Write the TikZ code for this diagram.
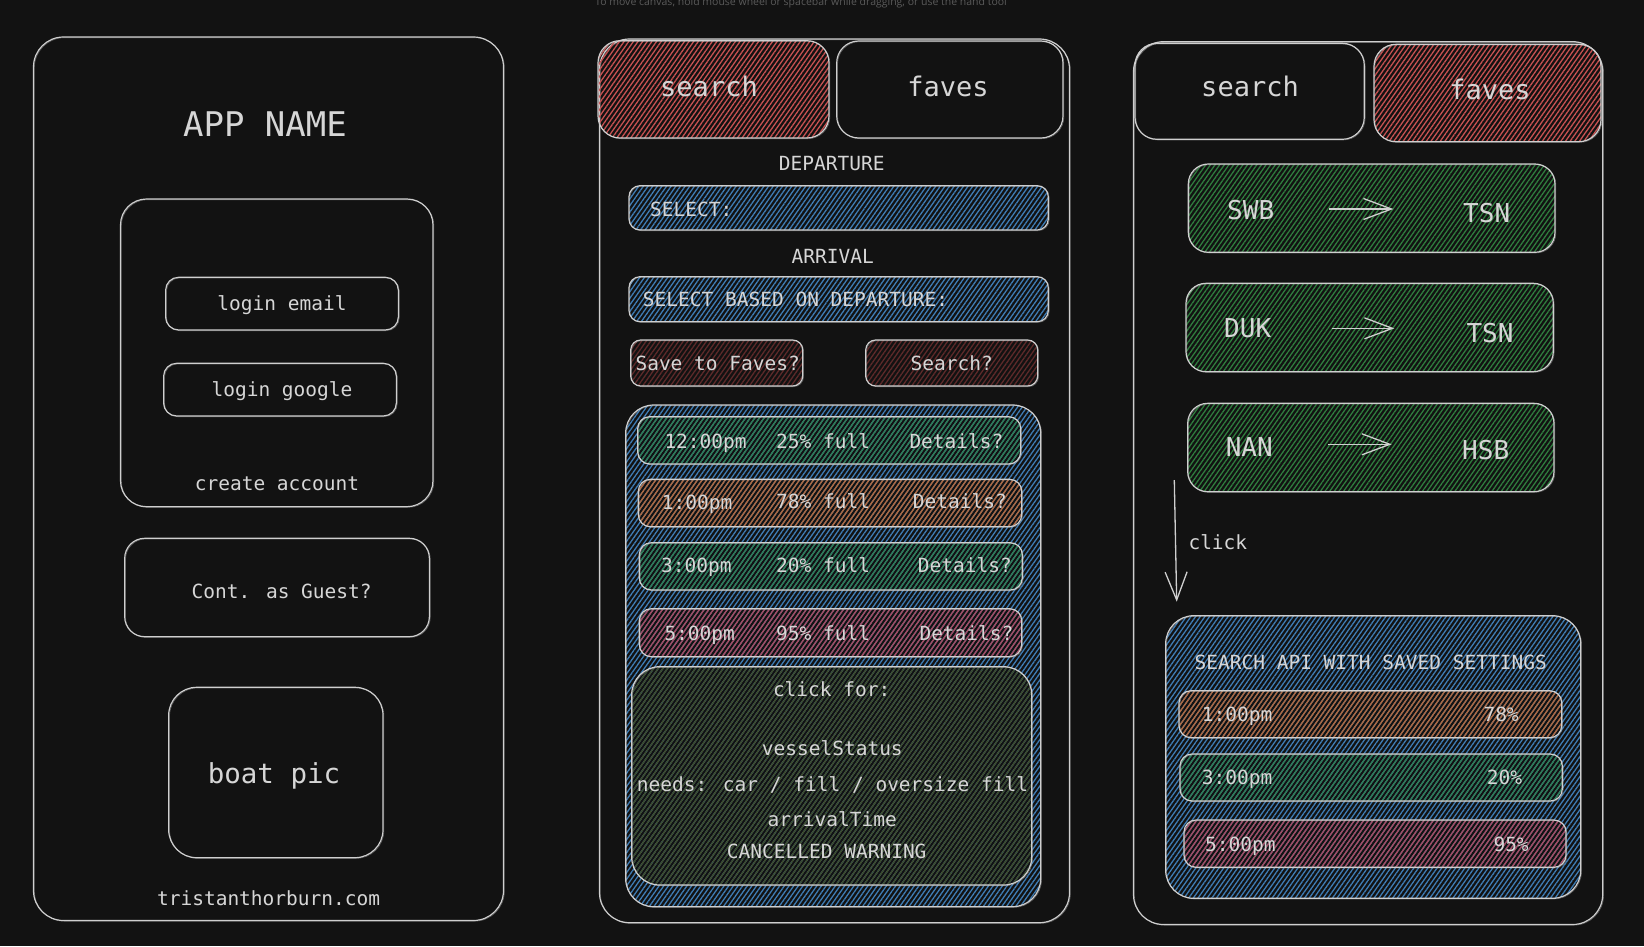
\documentclass[tikz,border=0pt]{standalone}
\usepackage{fontspec}
\newfontfamily\mono{DejaVu Sans Mono}
\newfontfamily\uisans{Open Sans}
\usetikzlibrary{patterns.meta,arrows.meta}
\definecolor{bg}{HTML}{121212}
\definecolor{ink}{HTML}{CFCFCF}
\definecolor{txt}{HTML}{D6D6D6}
\definecolor{hint}{HTML}{5A5A5A}
\definecolor{hred}{HTML}{C85252}
\definecolor{hblue}{HTML}{3F7DB5}
\definecolor{hgreen}{HTML}{2F7D3E}
\definecolor{hteal}{HTML}{2E7E52}
\definecolor{horange}{HTML}{B4673A}
\definecolor{hpink}{HTML}{A9495E}
\definecolor{hdred}{HTML}{5E2A2A}
\definecolor{holive}{HTML}{3E4A26}
\tikzset{
  box/.style={draw=ink, line width=1.2pt, inner sep=0pt, outer sep=0pt,
    postaction={draw=ink, line width=0.6pt, opacity=0.4,
      transform canvas={shift={(0.9pt,-0.7pt)}}}},
  hatch/.style={pattern={Lines[angle=55,distance=3.8pt,line width=1.3pt]}, pattern color=#1},
  lbl/.style={text=txt, font=\mono\fontsize{19.5}{22}\selectfont, inner sep=0pt},
  tab/.style={text=txt, font=\mono\fontsize{27}{30}\selectfont, inner sep=0pt},
  route/.style={text=txt, font=\mono\fontsize{26}{30}\selectfont, inner sep=0pt},
  arr/.style={draw=ink, line width=1.3pt, -{Straight Barb[length=28pt,width=21pt]}},
}
\newcommand\mkbox[6][]{%
  \node[box, #1, minimum width={(#5-#3)*1pt}, minimum height={(#6-#4)*1pt}]
    (#2) at ({(#3+#5)/2},{(#4+#6)/2}) {};}
\begin{document}
\begin{tikzpicture}[x=1pt,y=-1pt]
\fill[bg] (0,0) rectangle (1644,946);
\useasboundingbox (0,0) rectangle (1644,946);

\node[text=hint, font=\uisans\fontsize{10.5}{12}\selectfont, inner sep=0pt, anchor=base west] (hinttext) at (595,5) {To move canvas, hold mouse wheel or spacebar while dragging, or use the hand tool};

% ---------- left panel ----------
\mkbox[rounded corners=30pt]{lp}{33.5}{37}{503.5}{920.5}
\node[lbl, font=\mono\fontsize{34}{38}\selectfont, anchor=base] (appname) at (265,136.7) {APP NAME};
\mkbox[rounded corners=26pt]{lgbox}{120.5}{199}{433}{506.7}
\mkbox[rounded corners=13pt]{le}{165.6}{277.3}{398.4}{330}
\node[lbl, anchor=base] (tle) at (282,310) {login email};
\mkbox[rounded corners=13pt]{lg}{163.6}{363.3}{396.4}{416}
\node[lbl, anchor=base] (tlg) at (282,396.7) {login google};
\node[lbl, anchor=base] (tca) at (277,490) {create account};
\mkbox[rounded corners=20pt]{guest}{124.7}{538.3}{429.4}{636.7}
\node[lbl, anchor=base] (tguest) at (281.7,598.3) {Cont. as Guest?};
\mkbox[rounded corners=28pt]{boat}{168.7}{687.3}{383}{857.7}
\node[lbl, font=\mono\fontsize{27.5}{30}\selectfont, anchor=base] (tboat) at (274,783.3) {boat pic};
\node[lbl, anchor=base] (tsite) at (268.6,905) {tristanthorburn.com};

% ---------- middle panel ----------
\mkbox[rounded corners=30pt]{mp}{599.5}{39}{1069.5}{922.7}
\mkbox[rounded corners=22pt, hatch=hred]{mstab}{598}{40.7}{829}{138}
\node[tab, anchor=base] (tmstab) at (709,96.7) {search};
\mkbox[rounded corners=22pt]{mftab}{836.7}{41}{1063}{138}
\node[tab, anchor=base] (tmftab) at (948,96.7) {faves};
\node[lbl, anchor=base] (tdep) at (831.7,170.7) {DEPARTURE};
\mkbox[rounded corners=11pt, hatch=hblue]{sel1}{629}{185.7}{1048.3}{230}
\node[lbl, anchor=base west] (tsel1) at (650,216) {SELECT:};
\node[lbl, anchor=base] (tarr) at (832.7,263.3) {ARRIVAL};
\mkbox[rounded corners=11pt, hatch=hblue]{sel2}{629}{276.7}{1048.3}{321.7}
\node[lbl, anchor=base west] (tsel2) at (642.7,306.7) {SELECT BASED ON DEPARTURE:};
\mkbox[rounded corners=10pt, hatch=hdred]{save}{630.7}{340}{802.7}{386}
\node[lbl, anchor=base] (tsave) at (717.7,370.7) {Save to Faves?};
\mkbox[rounded corners=10pt, hatch=hdred]{srch}{865.7}{340}{1037.7}{386}
\node[lbl, anchor=base] (tsrch) at (951.7,370.7) {Search?};

\mkbox[rounded corners=28pt, hatch=hblue]{mres}{625.7}{405}{1040.7}{906.7}
\mkbox[rounded corners=12pt, hatch=hteal]{r1}{637.7}{416.7}{1020.7}{464}
\node[lbl, anchor=base west] (r1a) at (664.3,448.3) {12:00pm};
\node[lbl, anchor=base west] (r1b) at (776,448.3) {25\% full};
\node[lbl, anchor=base west] (r1c) at (909.3,448.3) {Details?};
\mkbox[rounded corners=12pt, hatch=horange]{r2}{638.3}{479.3}{1021.7}{526.7}
\node[lbl, anchor=base west] (r2a) at (661.7,509.3) {1:00pm};
\node[lbl, anchor=base west] (r2b) at (776,508) {78\% full};
\node[lbl, anchor=base west] (r2c) at (912.7,508) {Details?};
\mkbox[rounded corners=12pt, hatch=hteal]{r3}{639.3}{542.7}{1022.3}{590}
\node[lbl, anchor=base west] (r3a) at (661,572.7) {3:00pm};
\node[lbl, anchor=base west] (r3b) at (776,572.7) {20\% full};
\node[lbl, anchor=base west] (r3c) at (917.7,572.7) {Details?};
\mkbox[rounded corners=12pt, hatch=hpink]{r4}{639.3}{608.7}{1021.7}{656.7}
\node[lbl, anchor=base west] (r4a) at (664.3,640) {5:00pm};
\node[lbl, anchor=base west] (r4b) at (776,640) {95\% full};
\node[lbl, anchor=base west] (r4c) at (919.3,640) {Details?};
\mkbox[rounded corners=28pt, hatch=holive]{det}{631.7}{666.7}{1031.7}{885}
\node[lbl, anchor=base] (d1) at (831.7,696.7) {click for:};
\node[lbl, anchor=base] (d2) at (832.3,755.7) {vesselStatus};
\node[lbl, anchor=base] (d3) at (832.5,791.7) {needs: car / fill / oversize fill};
\node[lbl, anchor=base] (d4) at (832.3,826) {arrivalTime};
\node[lbl, anchor=base] (d5) at (826.7,858.3) {CANCELLED WARNING};

% ---------- right panel ----------
\mkbox[rounded corners=30pt]{rp}{1133.5}{41.7}{1602.7}{924.5}
\mkbox[rounded corners=22pt]{rstab}{1135}{43.3}{1364.3}{139.3}
\node[tab, anchor=base] (trstab) at (1250,96.7) {search};
\mkbox[rounded corners=22pt, hatch=hred]{rftab}{1374}{44.3}{1601}{141.7}
\node[tab, anchor=base] (trftab) at (1490,99) {faves};

\mkbox[rounded corners=20pt, hatch=hgreen]{fav1}{1188.3}{164}{1555}{252.3}
\node[route, anchor=base] (f1a) at (1250.7,219.3) {SWB};
\node[route, anchor=base] (f1b) at (1486.7,222.3) {TSN};
\coordinate (f1s) at (1329,209); \coordinate (f1e) at (1393.3,209);
\draw[arr] (f1s) -- (f1e);
\mkbox[rounded corners=20pt, hatch=hgreen]{fav2}{1186}{283.3}{1553.3}{371.7}
\node[route, anchor=base] (f2a) at (1247.7,337.7) {DUK};
\node[route, anchor=base] (f2b) at (1490,342.3) {TSN};
\coordinate (f2s) at (1332.3,328.3); \coordinate (f2e) at (1394.3,328.3);
\draw[arr] (f2s) -- (f2e);
\mkbox[rounded corners=20pt, hatch=hgreen]{fav3}{1187.7}{403.3}{1554}{491.7}
\node[route, anchor=base] (f3a) at (1249.3,456.7) {NAN};
\node[route, anchor=base] (f3b) at (1485.7,459.3) {HSB};
\coordinate (f3s) at (1328.3,444.3); \coordinate (f3e) at (1391.7,444.3);
\draw[arr] (f3s) -- (f3e);

\coordinate (cks) at (1174.3,480); \coordinate (cke) at (1176.7,601.7);
\draw[arr, -{Straight Barb[length=28pt,width=22pt]}] (cks) -- (cke);
\node[lbl, anchor=base west] (tclick) at (1188.3,549.3) {click};

\mkbox[rounded corners=28pt, hatch=hblue]{rres}{1165.7}{615.7}{1580.7}{898.3}
\node[lbl, anchor=base] (rtitle) at (1370.7,669.3) {SEARCH API WITH SAVED SETTINGS};
\mkbox[rounded corners=12pt, hatch=horange]{s1}{1179}{690.7}{1561.7}{737.7}
\node[lbl, anchor=base west] (s1a) at (1201.7,721.7) {1:00pm};
\node[lbl, anchor=base west] (s1b) at (1483.3,721.7) {78\%};
\mkbox[rounded corners=12pt, hatch=hteal]{s2}{1180}{754}{1562.3}{801}
\node[lbl, anchor=base west] (s2a) at (1201.7,784) {3:00pm};
\node[lbl, anchor=base west] (s2b) at (1486.7,784) {20\%};
\mkbox[rounded corners=12pt, hatch=hpink]{s3}{1184}{820}{1566}{867.3}
\node[lbl, anchor=base west] (s3a) at (1205,851.7) {5:00pm};
\node[lbl, anchor=base west] (s3b) at (1493.3,851.7) {95\%};
\end{tikzpicture}
\end{document}
